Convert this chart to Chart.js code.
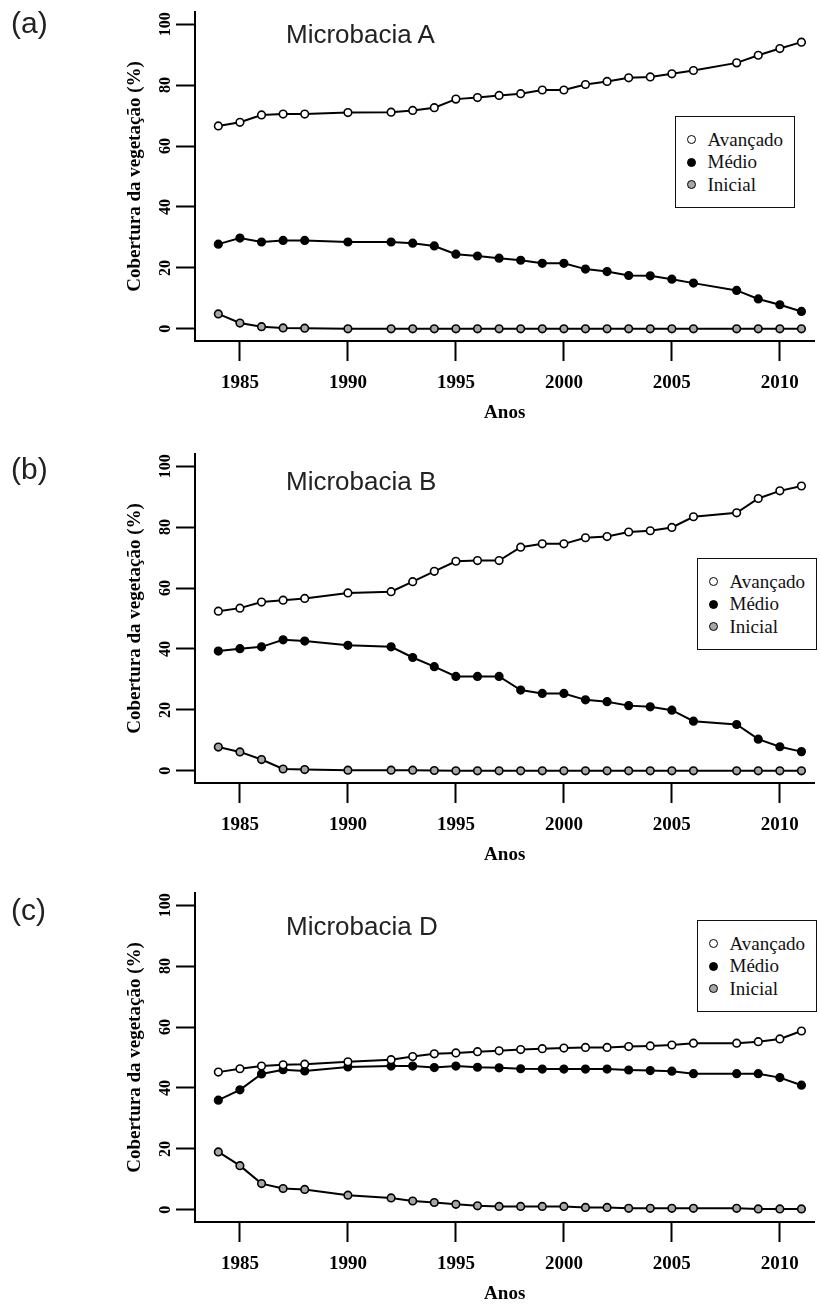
<!DOCTYPE html>
<html lang="pt">
<head>
<meta charset="utf-8">
<title>Cobertura da vegetação - Microbacias</title>
<script src="https://cdn.jsdelivr.net/npm/chart.js@4.4.1/dist/chart.umd.min.js"></script>
<style>
  html, body { margin: 0; padding: 0; background: #fff; }
  body { width: 820px; height: 1304px; position: relative; overflow: hidden; }
  .panel { position: absolute; left: 0; width: 820px; height: 423px; }
  .panel canvas { position: absolute; left: 0; top: 0; }
  .tag { position: absolute; left: 11px; font: 30px "Liberation Sans", Arial, sans-serif; line-height: 1; color: #222; }
  .nome { position: absolute; left: 286px; font: 26px "Liberation Sans", Arial, sans-serif; line-height: 1; color: #222; }
  .legenda {
    position: absolute; box-sizing: border-box; width: 120px; height: 92px;
    border: 1.5px solid #111; background: #fff; padding: 11.25px 0 0 10.5px;
    font: 19px "Liberation Serif", "Times New Roman", serif; color: #111;
  }
  .legenda .item { display: flex; align-items: center; height: 22.5px; }
  .legenda .ponto { width: 7px; height: 7px; border: 1.5px solid #000; border-radius: 50%; margin-right: 12px; }
</style>
</head>
<body>

<script>
// ---------------------- DADOS ---------------------------

// anos das imagens (falta 1989, 1991 e 2007)
const years = [1984, 1985, 1986, 1987, 1988, 1990, 1992, 1993, 1994, 1995, 1996, 1997, 1998,
  1999, 2000, 2001, 2002, 2003, 2004, 2005, 2006, 2008, 2009, 2010, 2011];

const seriesNames = ["Avançado", "Médio", "Inicial"];

const xTicks = [1985, 1990, 1995, 2000, 2005, 2010];
const yTicks = [0, 20, 40, 60, 80, 100];

// Microbacia A
const avancadoA = [66.6, 67.8, 70.2, 70.5, 70.5, 71.0, 71.1, 71.7, 72.6, 75.4, 75.9, 76.6, 77.2,
  78.4, 78.4, 80.2, 81.2, 82.4, 82.7, 83.7, 84.8, 87.3, 89.8, 92.0, 94.1];
const medioA = [27.8, 29.8, 28.5, 29.0, 29.0, 28.5, 28.5, 28.1, 27.2, 24.5, 23.9, 23.2, 22.5,
  21.5, 21.5, 19.6, 18.8, 17.5, 17.4, 16.3, 15.0, 12.6, 9.8, 7.9, 5.7];
const inicialA = [4.9, 1.9, 0.7, 0.3, 0.2, 0, 0, 0, 0, 0, 0, 0, 0,
  0, 0, 0, 0, 0, 0, 0, 0, 0, 0, 0, 0];

// Microbacia B
const avancadoB = [52.4, 53.4, 55.4, 56.0, 56.6, 58.4, 58.8, 62.1, 65.5, 68.8, 69.0, 69.0, 73.4,
  74.5, 74.5, 76.5, 76.9, 78.4, 78.8, 79.9, 83.4, 84.7, 89.4, 91.9, 93.5];
const medioB = [39.3, 40.1, 40.7, 43.0, 42.6, 41.2, 40.7, 37.2, 34.2, 31.0, 31.0, 31.0, 26.5,
  25.4, 25.4, 23.3, 22.7, 21.4, 21.0, 19.9, 16.3, 15.2, 10.4, 7.9, 6.3];
const inicialB = [7.8, 6.2, 3.7, 0.6, 0.4, 0.2, 0.2, 0.2, 0.1, 0, 0, 0, 0,
  0, 0, 0, 0, 0, 0, 0, 0, 0, 0, 0, 0];

// Microbacia D
const avancadoD = [45.2, 46.3, 47.2, 47.6, 47.8, 48.6, 49.3, 50.3, 51.2, 51.5, 51.9, 52.2, 52.6,
  52.9, 53.1, 53.3, 53.3, 53.6, 53.8, 54.1, 54.7, 54.7, 55.2, 56.1, 58.7];
const medioD = [36.0, 39.4, 44.6, 46.0, 45.6, 46.9, 47.2, 47.2, 46.7, 47.2, 46.8, 46.6, 46.3,
  46.2, 46.2, 46.2, 46.2, 45.9, 45.7, 45.5, 44.7, 44.7, 44.7, 43.4, 40.9];
const inicialD = [19.0, 14.5, 8.6, 7.0, 6.7, 4.8, 3.9, 2.9, 2.4, 1.8, 1.3, 1.1, 1.1,
  1.1, 1.1, 0.8, 0.8, 0.5, 0.5, 0.5, 0.5, 0.5, 0.3, 0.3, 0.3];

// ---------------------- GRÁFICOS ---------------------------

Chart.defaults.font.family = '"Liberation Serif", "Times New Roman", serif';
Chart.defaults.color = "#000";

// cor de preenchimento dos pontos por estágio
const fills = { "Avançado": "#ffffff", "Médio": "#000000", "Inicial": "#a6a6a6" };

function makePanel(opts) {
  const panel = document.createElement("div");
  panel.className = "panel";
  panel.style.top = opts.top + "px";
  document.body.appendChild(panel);

  const canvas = document.createElement("canvas");
  canvas.width = 820;
  canvas.height = 423;
  panel.appendChild(canvas);

  // (a), (b), (c)
  const tag = document.createElement("div");
  tag.className = "tag";
  tag.style.top = opts.tagTop + "px";
  tag.textContent = opts.tag;
  panel.appendChild(tag);

  const nome = document.createElement("div");
  nome.className = "nome";
  nome.style.top = opts.nameTop + "px";
  nome.textContent = opts.name;
  panel.appendChild(nome);

  const datasets = opts.series.map((values, i) => ({
    label: seriesNames[i],
    data: years.map((yr, j) => ({ x: yr, y: values[j] })),
    borderColor: "#000",
    borderWidth: 2,
    pointRadius: 3.8,
    pointBorderWidth: 1.6,
    pointBorderColor: "#000",
    pointBackgroundColor: fills[seriesNames[i]],
    tension: 0,
  }));

  // legenda em html
  const leg = document.createElement("div");
  leg.className = "legenda";
  leg.style.left = opts.legLeft + "px";
  leg.style.top = opts.legTop + "px";
  datasets.forEach((ds) => {
    const row = document.createElement("div");
    row.className = "item";
    const dot = document.createElement("span");
    dot.className = "ponto";
    dot.style.background = ds.pointBackgroundColor;
    row.appendChild(dot);
    row.appendChild(document.createTextNode(ds.label));
    leg.appendChild(row);
  });
  panel.appendChild(leg);

  const config = {
    type: "line",
    data: { datasets },
    options: {
      responsive: false,
      animation: false,
      events: [],
      layout: { padding: { top: 12, right: 0, bottom: 0, left: 0 } },
      plugins: { legend: { display: false }, tooltip: { enabled: false } },
      scales: {
        x: {
          type: "linear",
          position: "bottom",
          min: 1982.92,
          max: 2011.6,
          afterBuildTicks: (axis) => (axis.ticks = xTicks.map((v) => ({ value: v }))),
          afterFit: (scale) => { scale.height = 82; },
          grid: { display: true, drawOnChartArea: false, drawTicks: true, tickLength: 20, tickWidth: 2, tickColor: "#000" },
          border: { display: true, color: "#000", width: 2 },
          ticks: {
            autoSkip: false,
            maxRotation: 0,
            padding: 11,
            font: { size: 19, weight: "bold" },
            callback: (v) => String(v),
          },
          title: {
            display: true,
            text: "Anos",
            font: { size: 19, weight: "bold", lineHeight: 1 },
            padding: { top: 0, bottom: 0 },
          },
        },
        y: {
          type: "linear",
          position: "left",
          min: -4,
          max: 104,
          afterBuildTicks: (axis) => (axis.ticks = yTicks.map((v) => ({ value: v }))),
          afterFit: (scale) => { scale.width = 195; },
          grid: { display: true, drawOnChartArea: false, drawTicks: true, tickLength: 19, tickWidth: 2, tickColor: "#000" },
          border: { display: true, color: "#000", width: 2 },
          ticks: {
            minRotation: 90,
            maxRotation: 90,
            crossAlign: "center",
            padding: -2,
            font: { size: 16, weight: "bold" },
          },
          title: {
            display: true,
            text: "Cobertura da vegetação (%)",
            font: { size: 19, weight: "bold", lineHeight: 1 },
            padding: { top: 126, bottom: 0 },
          },
        },
      },
    },
  };

  return new Chart(canvas, config);
}

makePanel({ top: 0, tag: "(a)", tagTop: 8, name: "Microbacia A", nameTop: 21,
  legLeft: 675, legTop: 116, series: [avancadoA, medioA, inicialA] });

makePanel({ top: 442, tag: "(b)", tagTop: 12, name: "Microbacia B", nameTop: 26,
  legLeft: 697, legTop: 116, series: [avancadoB, medioB, inicialB] });

makePanel({ top: 881, tag: "(c)", tagTop: 14, name: "Microbacia D", nameTop: 32,
  legLeft: 697, legTop: 39, series: [avancadoD, medioD, inicialD] });
</script>
</body>
</html>
